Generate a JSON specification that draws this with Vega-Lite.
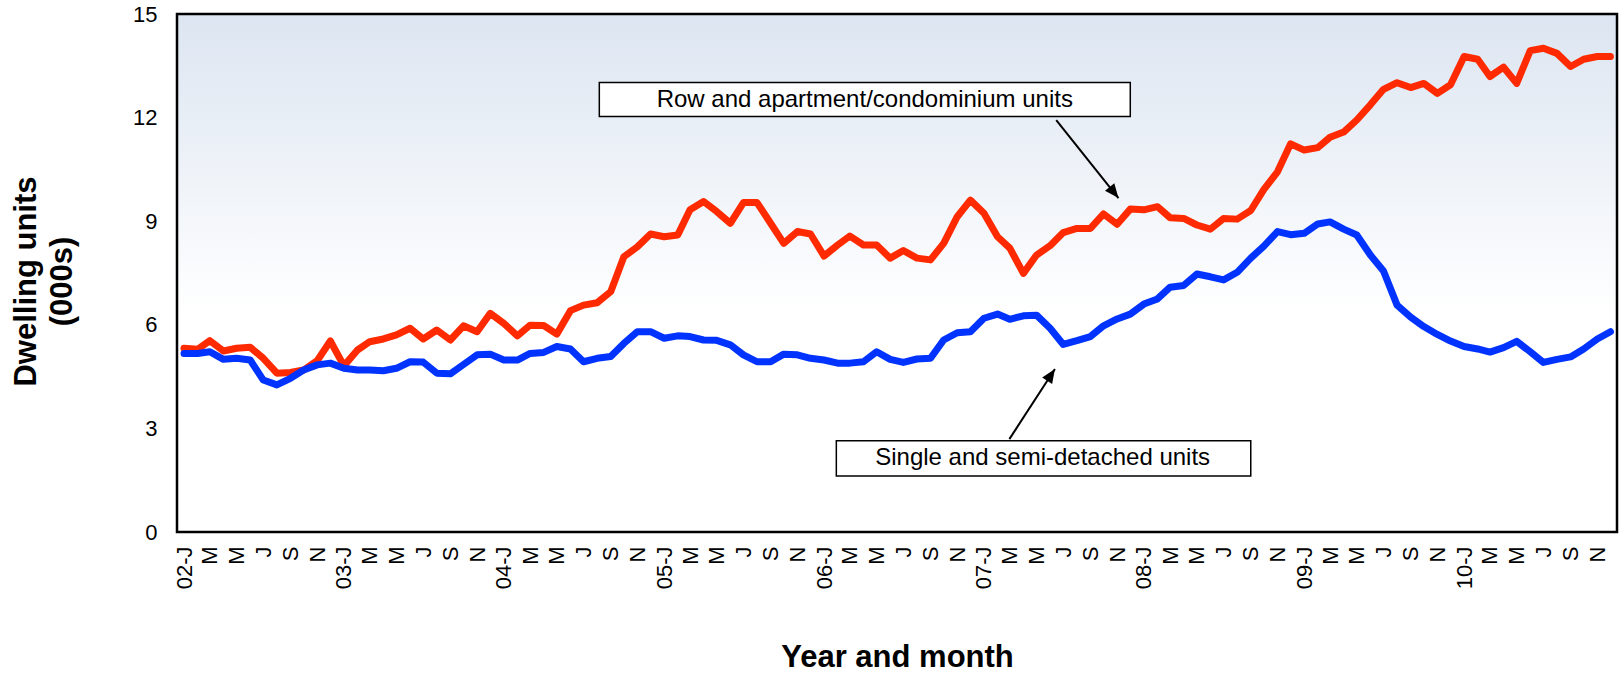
{
  "$schema": "https://vega.github.io/schema/vega-lite/v6.json",
  "width": 1440,
  "height": 518,
  "autosize": {"type": "none"},
  "padding": {"left": 177, "top": 14, "right": 3, "bottom": 141},
  "background": "white",
  "config": {
    "font": "Liberation Sans",
    "view": {
      "fill": {"gradient": "linear", "x1": 0, "y1": 0, "x2": 0, "y2": 1, "stops": [{"offset": 0, "color": "#dce5f1"}, {"offset": 0.58, "color": "#ffffff"}, {"offset": 1, "color": "#ffffff"}]},
      "stroke": "black",
      "strokeWidth": 2.5
    }
  },
  "datasets": {
    "starts": [
      {"date": "2002-01-01", "row": 5.32, "single": 5.17},
      {"date": "2002-02-01", "row": 5.29, "single": 5.17},
      {"date": "2002-03-01", "row": 5.54, "single": 5.22},
      {"date": "2002-04-01", "row": 5.24, "single": 5.00},
      {"date": "2002-05-01", "row": 5.32, "single": 5.03},
      {"date": "2002-06-01", "row": 5.35, "single": 4.98},
      {"date": "2002-07-01", "row": 5.03, "single": 4.40},
      {"date": "2002-08-01", "row": 4.60, "single": 4.26},
      {"date": "2002-09-01", "row": 4.62, "single": 4.45},
      {"date": "2002-10-01", "row": 4.69, "single": 4.69},
      {"date": "2002-11-01", "row": 4.96, "single": 4.84},
      {"date": "2002-12-01", "row": 5.53, "single": 4.89},
      {"date": "2003-01-01", "row": 4.81, "single": 4.74},
      {"date": "2003-02-01", "row": 5.27, "single": 4.69},
      {"date": "2003-03-01", "row": 5.51, "single": 4.69},
      {"date": "2003-04-01", "row": 5.59, "single": 4.67},
      {"date": "2003-05-01", "row": 5.71, "single": 4.74},
      {"date": "2003-06-01", "row": 5.90, "single": 4.93},
      {"date": "2003-07-01", "row": 5.59, "single": 4.92},
      {"date": "2003-08-01", "row": 5.85, "single": 4.60},
      {"date": "2003-09-01", "row": 5.56, "single": 4.58},
      {"date": "2003-10-01", "row": 5.97, "single": 4.85},
      {"date": "2003-11-01", "row": 5.80, "single": 5.13},
      {"date": "2003-12-01", "row": 6.33, "single": 5.15},
      {"date": "2004-01-01", "row": 6.04, "single": 4.98},
      {"date": "2004-02-01", "row": 5.68, "single": 4.98},
      {"date": "2004-03-01", "row": 5.99, "single": 5.17},
      {"date": "2004-04-01", "row": 5.98, "single": 5.20},
      {"date": "2004-05-01", "row": 5.73, "single": 5.37},
      {"date": "2004-06-01", "row": 6.41, "single": 5.30},
      {"date": "2004-07-01", "row": 6.57, "single": 4.93},
      {"date": "2004-08-01", "row": 6.64, "single": 5.03},
      {"date": "2004-09-01", "row": 6.96, "single": 5.08},
      {"date": "2004-10-01", "row": 7.97, "single": 5.46},
      {"date": "2004-11-01", "row": 8.26, "single": 5.80},
      {"date": "2004-12-01", "row": 8.63, "single": 5.80},
      {"date": "2005-01-01", "row": 8.55, "single": 5.61},
      {"date": "2005-02-01", "row": 8.60, "single": 5.68},
      {"date": "2005-03-01", "row": 9.33, "single": 5.66},
      {"date": "2005-04-01", "row": 9.57, "single": 5.56},
      {"date": "2005-05-01", "row": 9.28, "single": 5.55},
      {"date": "2005-06-01", "row": 8.94, "single": 5.42},
      {"date": "2005-07-01", "row": 9.54, "single": 5.13},
      {"date": "2005-08-01", "row": 9.54, "single": 4.93},
      {"date": "2005-09-01", "row": 8.94, "single": 4.93},
      {"date": "2005-10-01", "row": 8.36, "single": 5.15},
      {"date": "2005-11-01", "row": 8.70, "single": 5.13},
      {"date": "2005-12-01", "row": 8.63, "single": 5.03},
      {"date": "2006-01-01", "row": 7.99, "single": 4.98},
      {"date": "2006-02-01", "row": 8.31, "single": 4.89},
      {"date": "2006-03-01", "row": 8.57, "single": 4.89},
      {"date": "2006-04-01", "row": 8.31, "single": 4.93},
      {"date": "2006-05-01", "row": 8.31, "single": 5.22},
      {"date": "2006-06-01", "row": 7.93, "single": 5.00},
      {"date": "2006-07-01", "row": 8.15, "single": 4.91},
      {"date": "2006-08-01", "row": 7.93, "single": 5.01},
      {"date": "2006-09-01", "row": 7.88, "single": 5.03},
      {"date": "2006-10-01", "row": 8.36, "single": 5.56},
      {"date": "2006-11-01", "row": 9.13, "single": 5.77},
      {"date": "2006-12-01", "row": 9.61, "single": 5.80},
      {"date": "2007-01-01", "row": 9.23, "single": 6.19},
      {"date": "2007-02-01", "row": 8.55, "single": 6.31},
      {"date": "2007-03-01", "row": 8.22, "single": 6.16},
      {"date": "2007-04-01", "row": 7.49, "single": 6.26},
      {"date": "2007-05-01", "row": 8.02, "single": 6.28},
      {"date": "2007-06-01", "row": 8.29, "single": 5.90},
      {"date": "2007-07-01", "row": 8.67, "single": 5.43},
      {"date": "2007-08-01", "row": 8.79, "single": 5.54},
      {"date": "2007-09-01", "row": 8.79, "single": 5.66},
      {"date": "2007-10-01", "row": 9.21, "single": 5.97},
      {"date": "2007-11-01", "row": 8.91, "single": 6.17},
      {"date": "2007-12-01", "row": 9.35, "single": 6.31},
      {"date": "2008-01-01", "row": 9.33, "single": 6.60},
      {"date": "2008-02-01", "row": 9.42, "single": 6.75},
      {"date": "2008-03-01", "row": 9.10, "single": 7.09},
      {"date": "2008-04-01", "row": 9.08, "single": 7.14},
      {"date": "2008-05-01", "row": 8.89, "single": 7.47},
      {"date": "2008-06-01", "row": 8.77, "single": 7.39},
      {"date": "2008-07-01", "row": 9.08, "single": 7.30},
      {"date": "2008-08-01", "row": 9.06, "single": 7.52},
      {"date": "2008-09-01", "row": 9.31, "single": 7.93},
      {"date": "2008-10-01", "row": 9.92, "single": 8.28},
      {"date": "2008-11-01", "row": 10.43, "single": 8.70},
      {"date": "2008-12-01", "row": 11.24, "single": 8.61},
      {"date": "2009-01-01", "row": 11.06, "single": 8.65},
      {"date": "2009-02-01", "row": 11.13, "single": 8.92},
      {"date": "2009-03-01", "row": 11.43, "single": 8.98},
      {"date": "2009-04-01", "row": 11.58, "single": 8.77},
      {"date": "2009-05-01", "row": 11.93, "single": 8.60},
      {"date": "2009-06-01", "row": 12.37, "single": 8.02},
      {"date": "2009-07-01", "row": 12.82, "single": 7.56},
      {"date": "2009-08-01", "row": 13.01, "single": 6.57},
      {"date": "2009-09-01", "row": 12.87, "single": 6.22},
      {"date": "2009-10-01", "row": 12.99, "single": 5.95},
      {"date": "2009-11-01", "row": 12.70, "single": 5.72},
      {"date": "2009-12-01", "row": 12.95, "single": 5.53},
      {"date": "2010-01-01", "row": 13.77, "single": 5.37},
      {"date": "2010-02-01", "row": 13.69, "single": 5.30},
      {"date": "2010-03-01", "row": 13.19, "single": 5.21},
      {"date": "2010-04-01", "row": 13.46, "single": 5.34},
      {"date": "2010-05-01", "row": 12.99, "single": 5.52},
      {"date": "2010-06-01", "row": 13.94, "single": 5.22},
      {"date": "2010-07-01", "row": 14.01, "single": 4.91},
      {"date": "2010-08-01", "row": 13.86, "single": 5.00},
      {"date": "2010-09-01", "row": 13.48, "single": 5.07},
      {"date": "2010-10-01", "row": 13.69, "single": 5.30},
      {"date": "2010-11-01", "row": 13.77, "single": 5.59},
      {"date": "2010-12-01", "row": 13.77, "single": 5.80}
    ],
    "boxes": [
      {"label": "Row and apartment/condominium units", "from": "2004-08-06", "to": "2007-12-01", "top": 13.02, "bottom": 12.03, "mid": "2006-04-04", "centre": 12.51},
      {"label": "Single and semi-detached units", "from": "2006-01-29", "to": "2008-09-01", "top": 2.64, "bottom": 1.62, "mid": "2007-05-15", "centre": 2.13}
    ],
    "arrows": [
      {"fromDate": "2007-06-15", "fromValue": 11.93, "toDate": "2007-11-04", "toValue": 9.67, "heading": 141.5},
      {"fromDate": "2007-02-28", "fromValue": 2.69, "toDate": "2007-06-12", "toValue": 4.72, "heading": 33.3}
    ]
  },
  "layer": [
    {
      "data": {"name": "starts"},
      "mark": {"type": "line", "color": "#ff2a00", "strokeWidth": 7, "strokeJoin": "round", "strokeCap": "round"},
      "encoding": {
        "x": {
          "field": "date",
          "type": "temporal",
          "scale": {"type": "utc", "domain": [{"year": 2001, "month": 12, "date": 16, "utc": true}, {"year": 2010, "month": 12, "date": 16, "utc": true}], "nice": false},
          "axis": {
            "title": "Year and month",
            "titleFontSize": 31,
            "titleFontWeight": "bold",
            "titleColor": "black",
            "titleBaseline": "top",
            "titleY": 110,
            "tickCount": {"interval": "month", "step": 2},
            "labelExpr": "utcFormat(datum.value, '%m') == '01' ? utcFormat(datum.value, '%y') + '-J' : slice(utcFormat(datum.value, '%b'), 0, 1)",
            "labelAngle": 270,
            "labelFontSize": 22,
            "labelColor": "black",
            "labelPadding": 14,
            "labelOverlap": false,
            "labelFlush": false,
            "labelBound": false,
            "ticks": false,
            "domain": false,
            "grid": false
          }
        },
        "y": {
          "field": "row",
          "type": "quantitative",
          "scale": {"domain": [0, 15], "nice": false},
          "axis": {
            "title": ["Dwelling units", "(000s)"],
            "titleFontSize": 31,
            "titleFontWeight": "bold",
            "titleColor": "black",
            "titleAngle": 270,
            "titleAlign": "center",
            "titleBaseline": "top",
            "titleLineHeight": 36,
            "titleX": -166,
            "titleY": 267,
            "values": [0, 3, 6, 9, 12, 15],
            "labelFontSize": 22,
            "labelColor": "black",
            "labelPadding": 20,
            "ticks": false,
            "domain": false,
            "grid": false
          }
        }
      }
    },
    {
      "data": {"name": "starts"},
      "mark": {"type": "line", "color": "#0033ff", "strokeWidth": 7, "strokeJoin": "round", "strokeCap": "round"},
      "encoding": {
        "x": {"field": "date", "type": "temporal"},
        "y": {"field": "single", "type": "quantitative"}
      }
    },
    {
      "data": {"name": "boxes"},
      "mark": {"type": "rect", "fill": "white", "stroke": "black", "strokeWidth": 1.5},
      "encoding": {
        "x": {"field": "from", "type": "temporal"},
        "x2": {"field": "to"},
        "y": {"field": "top", "type": "quantitative"},
        "y2": {"field": "bottom"}
      }
    },
    {
      "data": {"name": "boxes"},
      "mark": {"type": "text", "fontSize": 24, "color": "black", "align": "center", "baseline": "middle"},
      "encoding": {
        "x": {"field": "mid", "type": "temporal"},
        "y": {"field": "centre", "type": "quantitative"},
        "text": {"field": "label"}
      }
    },
    {
      "data": {"name": "arrows"},
      "mark": {"type": "rule", "color": "black", "strokeWidth": 2},
      "encoding": {
        "x": {"field": "fromDate", "type": "temporal"},
        "x2": {"field": "toDate"},
        "y": {"field": "fromValue", "type": "quantitative"},
        "y2": {"field": "toValue"}
      }
    },
    {
      "data": {"name": "arrows"},
      "mark": {"type": "point", "shape": "M0,0L-0.42,1L0.42,1Z", "size": 800, "filled": true, "color": "black", "opacity": 1},
      "encoding": {
        "x": {"field": "toDate", "type": "temporal"},
        "y": {"field": "toValue", "type": "quantitative"},
        "angle": {"field": "heading", "type": "quantitative", "scale": null}
      }
    }
  ]
}
